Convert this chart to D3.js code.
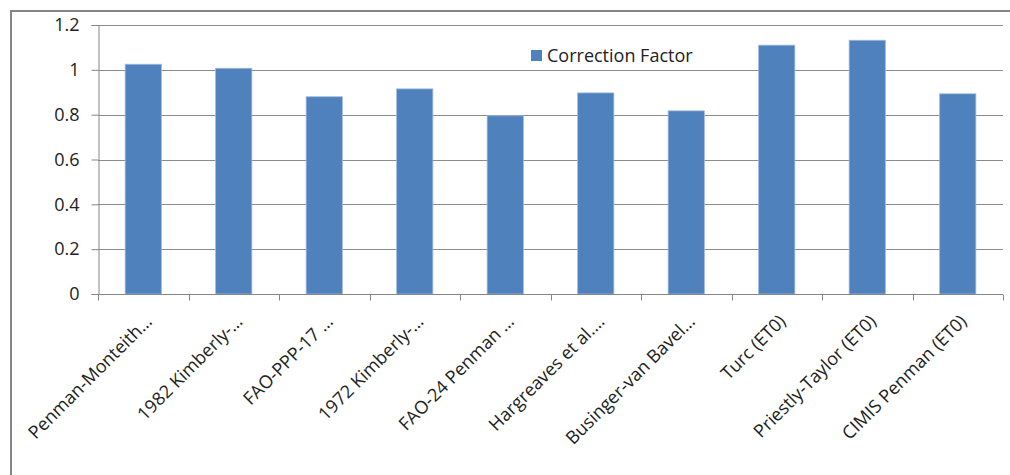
<!DOCTYPE html>
<meta charset="utf-8">
<html>
<head>
  <title>Correction Factor</title>
  <style>
    body { margin: 0; background: #fff; }
    text { font-family: "Open Sans", "Liberation Sans", sans-serif; fill: #222; }
  </style>
</head>
<body>
  <script src="https://d3js.org/d3.v7.js"></script>
  <div id="chart"></div>
  <script>
    // data
    var categories = ["Penman-Monteith…", "1982 Kimberly-…", "FAO-PPP-17 …", "1972 Kimberly-…",
      "FAO-24 Penman …", "Hargreaves et al.…", "Businger-van Bavel…", "Turc (ET0)",
      "Priestly-Taylor (ET0)", "CIMIS Penman (ET0)"];
    var values = [1.025, 1.007, 0.880, 0.915, 0.795, 0.897, 0.817, 1.110, 1.132, 0.893];
    var yTicks = [0, 0.2, 0.4, 0.6, 0.8, 1, 1.2];
    var seriesName = "Correction Factor";

    var W = 1010, H = 475;
    var margin = { top: 25, right: 7, bottom: 181, left: 98 },
      width = W - margin.left - margin.right,
      height = H - margin.top - margin.bottom;

    var svg = d3.select("#chart").append("svg")
      .attr("width", W).attr("height", H);

    // outer frame (left + top edges visible)
    svg.append("path")
      .attr("d", "M11,475 V11 H1010")
      .attr("fill", "none").attr("stroke", "#868686").attr("stroke-width", 2);

    var g = svg.append("g")
      .attr("transform", "translate(" + margin.left + "," + margin.top + ")");

    var x = d3.scaleBand().domain(categories).range([0, width]).paddingInner(0).paddingOuter(0);
    var y = d3.scaleLinear().domain([0, 1.2]).range([height, 0]);

    // gridlines
    g.selectAll(".grid").data(yTicks.filter(function (d) { return d > 0; }))
      .enter().append("line")
      .attr("x1", 0).attr("x2", width)
      .attr("y1", function (d) { return Math.round(y(d)) + 0.5; })
      .attr("y2", function (d) { return Math.round(y(d)) + 0.5; })
      .attr("stroke", "#8c8c8c").attr("stroke-width", 1);

    // bars
    var bw = x.bandwidth() / 2.5;
    g.selectAll("rect.bar").data(values).enter().append("rect")
      .attr("class", "bar")
      .attr("x", function (d, i) { return x(categories[i]) + (x.bandwidth() - bw) / 2; })
      .attr("y", function (d) { return y(d); })
      .attr("width", bw)
      .attr("height", function (d) { return height - y(d); })
      .attr("fill", "#4f81bd")
      .attr("stroke", "#9fb9dc").attr("stroke-width", 0.8);

    // y axis
    var yAxis = g.append("g").attr("transform", "translate(0.5,0)")
      .call(d3.axisLeft(y).tickValues(yTicks).tickSize(7).tickPadding(12)
        .tickFormat(function (d) { return d3.format("")(d); }));
    yAxis.attr("font-size", null).attr("font-family", null);
    yAxis.select(".domain").attr("stroke", "#868686");
    yAxis.selectAll(".tick line").attr("stroke", "#868686");
    yAxis.selectAll("text").style("font-size", "18px").attr("fill", "#222");

    // x axis: ticks at category boundaries
    var xg = g.append("g").attr("transform", "translate(0," + (height + 0.5) + ")");
    xg.append("line").attr("x1", 0).attr("x2", width).attr("stroke", "#868686");
    var bounds = d3.range(categories.length + 1).map(function (i) { return i * x.step(); });
    xg.selectAll(".xt").data(bounds).enter().append("line")
      .attr("x1", function (d) { return Math.round(d) + 0.5; })
      .attr("x2", function (d) { return Math.round(d) + 0.5; })
      .attr("y1", 0).attr("y2", 6).attr("stroke", "#868686");

    xg.selectAll(".xl").data(categories).enter().append("text")
      .attr("transform", function (d) {
        var cx = x(d) + x.bandwidth() / 2 + 10;
        return "translate(" + cx + ",28) rotate(-45)";
      })
      .attr("text-anchor", "end")
      .style("font-size", "18px")
      .text(function (d) { return d; });

    // legend
    var lg = svg.append("g").attr("transform", "translate(531,50)");
    lg.append("rect").attr("width", 11).attr("height", 11).attr("fill", "#4f81bd");
    lg.append("text").attr("x", 16).attr("y", 12).style("font-size", "18px").text(seriesName);
  </script>
</body>
</html>
